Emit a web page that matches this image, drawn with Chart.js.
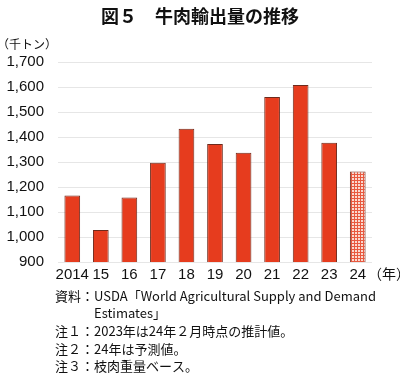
<!DOCTYPE html>
<html>
<head>
<meta charset="utf-8">
<script src="https://cdn.jsdelivr.net/npm/chart.js@4"></script>
<style>
  html, body { margin: 0; padding: 0; background: #fff; }
  #wrap { width: 400px; height: 392px; }
</style>
</head>
<body>
<div id="wrap"><canvas id="c" width="400" height="392"></canvas></div>
<script>
const years = ["2014", "15", "16", "17", "18", "19", "20", "21", "22", "23", "24"];
const exportsKt = [1166, 1028, 1158, 1297, 1433, 1372, 1337, 1560, 1608, 1377, 1262];
const yTicks = [900, 1000, 1100, 1200, 1300, 1400, 1500, 1600, 1700];
const titleText = "図５　牛肉輸出量の推移";
const notes = [
  "資料：USDA「World Agricultural Supply and Demand",
  "　　　Estimates」",
  "注１：2023年は24年２月時点の推計値。",
  "注２：24年は予測値。",
  "注３：枝肉重量ベース。"
];

const JP = '"Noto Sans CJK JP", "Noto Sans", sans-serif';
const NUM = '"Liberation Sans", Arial, sans-serif';

// hatch for the forecast bar
function makeHatch() {
  const p = document.createElement("canvas");
  p.width = 3; p.height = 3;
  const g = p.getContext("2d");
  g.fillStyle = "#fbd9d0";
  g.fillRect(0, 0, 3, 3);
  g.fillStyle = "#e8593f";
  g.fillRect(0, 0, 3, 1);
  g.fillRect(0, 0, 1, 3);
  return g.createPattern(p, "repeat");
}
const hatch = makeHatch();
const fills = years.map((y, i) => i === years.length - 1 ? hatch : "#e63c1e");

const textPlugin = {
  id: "texts",
  afterDraw(chart) {
    const ctx = chart.ctx;
    ctx.save();
    ctx.fillStyle = "#111";
    ctx.textBaseline = "middle";
    ctx.textAlign = "center";
    ctx.font = "bold 18px " + JP;
    ctx.fillText(titleText, 200, 16);
    ctx.textAlign = "left";
    ctx.font = "12px " + JP;
    ctx.fillText("（千トン）", -3, 44);
    ctx.font = "14px " + JP;
    ctx.fillText("（年）", 368, 274);
    ctx.font = "13px " + JP;
    const ys = [296, 313, 331, 349, 366];
    notes.forEach((t, i) => ctx.fillText(t, 55, ys[i]));
    ctx.restore();
  }
};

new Chart(document.getElementById("c"), {
  type: "bar",
  data: {
    labels: years,
    datasets: [{
      data: exportsKt,
      backgroundColor: fills,
      borderColor: "#6e2a1c",
      borderWidth: 1,
      barPercentage: 0.55,
      categoryPercentage: 1
    }]
  },
  options: {
    responsive: false,
    animation: false,
    layout: { padding: { top: 62, right: 28, bottom: 102, left: 0 } },
    plugins: { legend: { display: false }, tooltip: { enabled: false } },
    scales: {
      x: {
        afterFit: s => { s.height = 28; },
        grid: { display: false, drawTicks: false },
        border: { display: false },
        ticks: { color: "#111", font: { family: NUM, size: 15 }, padding: 4, maxRotation: 0, autoSkip: false }
      },
      y: {
        min: 900,
        max: 1700,
        afterFit: s => { s.width = 58; },
        afterBuildTicks: s => { s.ticks = yTicks.map(v => ({ value: v })); },
        grid: { color: "#e6e6e6", drawTicks: false },
        border: { display: false },
        ticks: {
          color: "#111",
          padding: 14,
          font: { family: NUM, size: 15 },
          callback: v => v.toLocaleString("en-US")
        }
      }
    }
  },
  plugins: [textPlugin]
});
</script>
</body>
</html>
